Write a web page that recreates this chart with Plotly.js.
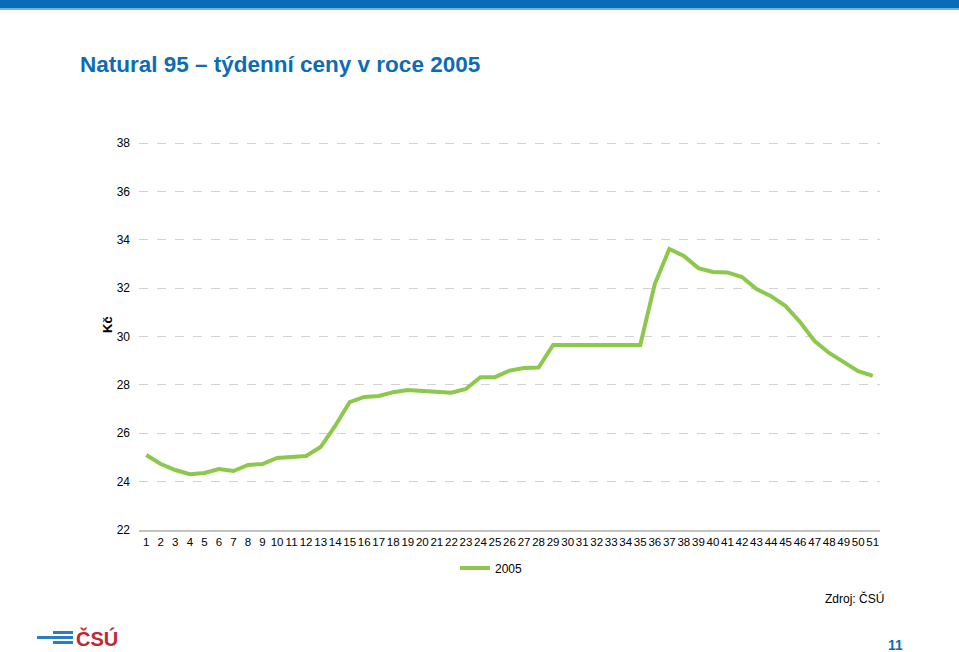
<!DOCTYPE html>
<html>
<head>
<meta charset="utf-8">
<script src="https://cdn.plot.ly/plotly-3.0.1.min.js"></script>
<style>html,body{margin:0;padding:0;background:#fff;}#chart{width:959px;height:652px;}</style>
</head>
<body>
<div id="chart"></div>
<script>
const weeks = ["1","2","3","4","5","6","7","8","9","10","11","12","13","14","15","16","17","18","19","20","21","22","23","24","25","26","27","28","29","30","31","32","33","34","35","36","37","38","39","40","41","42","43","44","45","46","47","48","49","50","51"];
const prices2005 = [25.10,24.73,24.48,24.31,24.36,24.52,24.44,24.69,24.73,24.98,25.02,25.06,25.43,26.30,27.29,27.50,27.54,27.70,27.79,27.75,27.70,27.68,27.83,28.32,28.32,28.59,28.70,28.72,29.65,29.65,29.63,29.65,29.61,29.65,29.65,32.17,33.62,33.33,32.83,32.67,32.65,32.46,31.96,31.67,31.26,30.60,29.81,29.32,28.94,28.57,28.37];
const seriesName = "2005";
const yTicks = [22,24,26,28,30,32,34,36,38];

const W = 959, H = 652;
const L = 139, R = 880, T = 137, B = 530;
const px = x => (x - L) / (R - L);
const py = y => (B - y) / (B - T);
const FONT = "Liberation Sans, Arial, sans-serif";

const trace = {
  x: weeks, y: prices2005, type: "scatter", mode: "lines", name: seriesName,
  line: {color: "#8cc84b", width: 4}
};

const layout = {
  width: W, height: H,
  margin: {l: L, r: W - R, t: T, b: H - B, pad: 0},
  paper_bgcolor: "#fff", plot_bgcolor: "#fff",
  font: {family: FONT, size: 12, color: "#000"},
  title: {
    text: "Natural 95 – týdenní ceny v roce 2005",
    x: 80 / W, xanchor: "left", xref: "container",
    y: 1 - 64 / H, yanchor: "middle", yref: "container",
    font: {family: FONT, size: 22.5, weight: "bold", color: "#0d6cb4"}
  },
  xaxis: {
    type: "category", tickvals: weeks, ticktext: weeks, range: [-0.5, weeks.length - 0.5],
    showgrid: false, zeroline: false, showline: true, linecolor: "#c3c3c3", linewidth: 2,
    ticks: "", tickfont: {size: 11.5, color: "#000"}, tickangle: 0, fixedrange: true
  },
  yaxis: {
    range: [22, 38.25], tickvals: yTicks, showgrid: true, gridcolor: "#d2d2d2", griddash: "dash", gridwidth: 1,
    zeroline: false, showline: false, ticks: "", ticklabelstandoff: 8,
    tickfont: {size: 12, color: "#000"}, fixedrange: true
  },
  showlegend: true,
  legend: {
    orientation: "h", x: px(455), xanchor: "left", y: py(568), yanchor: "middle",
    font: {size: 12, color: "#000"}, bgcolor: "rgba(0,0,0,0)"
  },
  shapes: [
    {type: "rect", xref: "paper", yref: "paper", x0: px(0), x1: px(W), y0: py(0), y1: py(8), fillcolor: "#0b6cb6", line: {width: 0}, layer: "above"},
    {type: "rect", xref: "paper", yref: "paper", x0: px(0), x1: px(W), y0: py(8), y1: py(10), fillcolor: "#6db3e3", line: {width: 0}, layer: "above"},
    {type: "rect", xref: "paper", yref: "paper", x0: px(37), x1: px(73), y0: py(636), y1: py(639), fillcolor: "#2a7cc4", line: {width: 0}},
    {type: "rect", xref: "paper", yref: "paper", x0: px(53), x1: px(73), y0: py(631), y1: py(634), fillcolor: "#2a7cc4", line: {width: 0}},
    {type: "rect", xref: "paper", yref: "paper", x0: px(53), x1: px(73), y0: py(641), y1: py(644), fillcolor: "#2a7cc4", line: {width: 0}}
  ],
  annotations: [
    {text: "Kč", xref: "paper", yref: "paper", x: px(107), y: py(325), xanchor: "center", yanchor: "middle", textangle: -90, showarrow: false, font: {size: 13, weight: "bold", color: "#000"}},
    {text: "Zdroj: ČSÚ", xref: "paper", yref: "paper", x: px(886), y: py(598), xanchor: "right", yanchor: "middle", showarrow: false, font: {size: 12, color: "#000"}},
    {text: "ČSÚ", xref: "paper", yref: "paper", x: px(74), y: py(638), xanchor: "left", yanchor: "middle", showarrow: false, font: {size: 20, weight: "bold", color: "#c1272d"}},
    {text: "11", xref: "paper", yref: "paper", x: px(895), y: py(645), xanchor: "center", yanchor: "middle", showarrow: false, font: {size: 14, weight: "bold", color: "#0d6cb4"}}
  ]
};

Plotly.newPlot("chart", [trace], layout, {displayModeBar: false, staticPlot: true});
</script>
</body>
</html>
